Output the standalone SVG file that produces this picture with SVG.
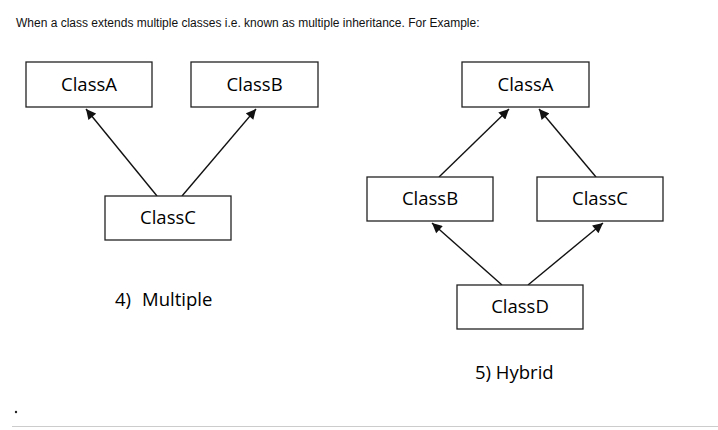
<svg xmlns="http://www.w3.org/2000/svg" width="718" height="430" viewBox="0 0 718 430">
<style>
.box{fill:#fff;stroke:#222;stroke-width:1.3}
.lbl{font-family:"Open Sans","Noto Sans",sans-serif;font-size:18.5px;fill:#000;text-anchor:middle}
.cap{font-family:"Open Sans","Noto Sans",sans-serif;font-size:18.5px;fill:#000}
.con{stroke:#111;stroke-width:1.4;fill:none;marker-end:url(#ah)}
</style>
<defs>
<marker id="ah" viewBox="0 0 10 10" refX="10" refY="5" markerWidth="11" markerHeight="10" markerUnits="userSpaceOnUse" orient="auto">
<path d="M0,0 L10,5 L0,10 z" fill="#111"/>
</marker>
</defs>
<rect width="718" height="430" fill="#fff"/>
<text x="16" y="27" font-family="Liberation Sans, Arial, sans-serif" font-size="12" fill="#111">When a class extends multiple classes i.e. known as multiple inheritance. For Example:</text>
<g id="connectors">
<line class="con" x1="157" y1="196" x2="86" y2="109"/>
<line class="con" x1="182" y1="196" x2="256" y2="109"/>
<line class="con" x1="439" y1="177" x2="509" y2="109"/>
<line class="con" x1="596" y1="177" x2="539" y2="109"/>
<line class="con" x1="502" y1="285" x2="432" y2="223"/>
<line class="con" x1="528" y1="285" x2="603" y2="223"/>
</g>
<g id="m-classA"><rect class="box" x="26" y="62" width="126" height="45"/><text class="lbl" x="89" y="91">ClassA</text></g>
<g id="m-classB"><rect class="box" x="191" y="62" width="127" height="45"/><text class="lbl" x="254.5" y="91">ClassB</text></g>
<g id="m-classC"><rect class="box" x="105" y="196" width="126" height="44"/><text class="lbl" x="168" y="224">ClassC</text></g>
<g id="h-classA"><rect class="box" x="462" y="62" width="127" height="45"/><text class="lbl" x="525.5" y="91">ClassA</text></g>
<g id="h-classB"><rect class="box" x="367" y="177" width="126" height="44"/><text class="lbl" x="430" y="205">ClassB</text></g>
<g id="h-classC"><rect class="box" x="537" y="177" width="126" height="44"/><text class="lbl" x="600" y="205">ClassC</text></g>
<g id="h-classD"><rect class="box" x="457" y="285" width="126" height="44"/><text class="lbl" x="520" y="313">ClassD</text></g>
<text class="cap" x="115" y="306">4)<tspan x="142">Multiple</tspan></text>
<text class="cap" x="475" y="379">5) Hybrid</text>
<circle cx="16" cy="412" r="1.2" fill="#222"/>
<line x1="12" y1="426.5" x2="718" y2="426.5" stroke="#ccc" stroke-width="1"/>
</svg>
